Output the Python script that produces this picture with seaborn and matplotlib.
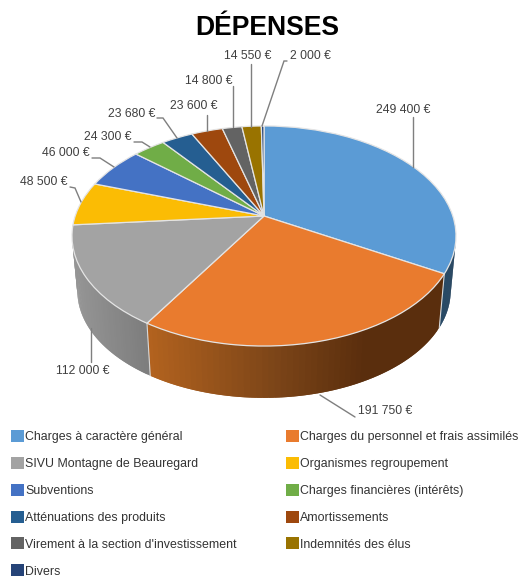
import numpy as np
import matplotlib
matplotlib.use("Agg")
import matplotlib.pyplot as plt
import seaborn as sns
from matplotlib.collections import PolyCollection
from matplotlib.colors import to_rgb
from matplotlib.patches import Patch
from matplotlib.path import Path
from matplotlib.transforms import Transform

categories = ["Charges à caractère général", "Charges du personnel et frais assimilés",
              "SIVU Montagne de Beauregard", "Organismes regroupement", "Subventions",
              "Charges financières (intérêts)", "Atténuations des produits", "Amortissements",
              "Virement à la section d'investissement", "Indemnités des élus", "Divers"]
values = [249400, 191750, 112000, 48500, 46000, 24300, 23680, 23600, 14800, 14550, 2000]
labels = ["249 400 €", "191 750 €", "112 000 €", "48 500 €", "46 000 €", "24 300 €",
          "23 680 €", "23 600 €", "14 800 €", "14 550 €", "2 000 €"]
colors = ["#5B9BD5", "#E97B2E", "#A3A3A3", "#FBBC04", "#4472C4", "#70AD47",
          "#255E91", "#9E480E", "#636363", "#997300", "#264478"]

sns.set_theme(style="white")
FONT = ["Liberation Sans", "DejaVu Sans"]
plt.rcParams["font.family"] = FONT
TXT = "#404040"

fig = plt.figure(figsize=(5.2, 5.78), dpi=100)
ax = fig.add_axes([0, 0, 1, 1])


class Perspective(Transform):
    input_dims = output_dims = 2
    is_separable = False
    has_inverse = False

    def __init__(self, cx, cy, a, b, k):
        super().__init__()
        self.p = (cx, cy, a, b, k)

    def transform_non_affine(self, xy):
        xy = np.asarray(xy, float)
        cx, cy, a, b, k = self.p
        w = 1 + k * xy[:, 1]
        return np.column_stack([cx + a * xy[:, 0] / w, cy - b * xy[:, 1] / w])

    def transform_path_non_affine(self, path):
        return Path(self.transform_non_affine(path.vertices), path.codes)


K = 0.1818
top = Perspective(264, 216, 188.8, 106.4, K)
bottom = Perspective(264, 271.5, 188.8 * 0.972, 106.4 * 0.972, K)


def rim(persp, deg):
    r = np.radians(deg)
    return persp.transform_non_affine(np.column_stack([np.cos(r), np.sin(r)]))


wedges, _ = ax.pie(values, colors=colors, startangle=90, counterclock=False,
                   wedgeprops=dict(edgecolor="#e4e4e4", linewidth=0.9, zorder=5))
ax.set_aspect("auto")
ax.set_xlim(0, 520)
ax.set_ylim(578, 0)
ax.axis("off")
for w in wedges:
    w.set_transform(top + ax.transData)

# extruded wall, shaded from left to right along each visible slice
side_shades = {0: ("#1A3F5E", "#1A3F5E", "#163754"), 1: ("#B5641F", "#7C4518", "#5A2E0D"),
               2: ("#969696", "#8C8C8C", "#7E7E7E")}
quads, qcol = [], []
for i, shades in side_shades.items():
    w = wedges[i]
    t1, t2 = w.theta1, w.theta2
    if i == 0:
        t2 = t1 + 16
    ang = np.linspace(t1, t2, 60)
    u = rim(top, ang)
    l = rim(bottom, ang)
    xs = 0.5 * (u[:, 0] + l[:, 0])
    f = (xs - xs.min()) / (xs.max() - xs.min())
    c0, c1, c2 = (np.array(to_rgb(c)) for c in shades)
    n = len(ang)
    # strips overlap their neighbour so that no seams show
    for j in range(n - 1):
        fm = 0.5 * (f[j] + f[j + 1])
        if i == 1:
            col = c0 + (c1 - c0) * min(fm / 0.45, 1) + (c2 - c1) * np.clip((fm - 0.45) / 0.3, 0, 1)
        else:
            col = c0 + (c2 - c0) * fm
        jp = max(j - 1, 0)
        quads.append([u[jp], u[j + 1], l[j + 1], l[jp]])
        qcol.append(col)
ax.add_collection(PolyCollection(quads, facecolors=qcol, edgecolors="none", linewidths=0, zorder=2))

# light seams on the wall
for t in (wedges[1].theta1, wedges[1].theta2):
    a = np.array([t])
    ax.plot([rim(top, a)[0, 0], rim(bottom, a)[0, 0]], [rim(top, a)[0, 1], rim(bottom, a)[0, 1]],
            color="#d8d8d8", lw=0.8, zorder=3)

# labels: text centre, then leader points
label_layout = [
    (403, 110, [(413, 117), (413, 167)]),
    (385, 411, [(355, 417), (320, 395)]),
    (83, 371, [(91, 362), (91, 328)]),
    (44, 182, [(70, 187), (75, 188), (81, 202)]),
    (66, 153, [(92, 158), (100, 158), (114, 167)]),
    (108, 137, [(134, 142), (142, 142), (150, 147)]),
    (132, 114, [(157, 118), (163, 118), (177, 138)]),
    (194, 106, [(207, 115), (207, 131)]),
    (209, 81, [(233, 86), (233, 127)]),
    (248, 56, [(251, 64), (251, 127)]),
    (310, 56, [(287, 61), (284, 61), (262, 126)]),
]
for lab, (x, y, pts) in zip(labels, label_layout):
    ax.text(x, y, lab, ha="center", va="center", fontsize=8.8, color=TXT, zorder=7)
    ax.plot(*zip(*pts), color="#7f7f7f", lw=1.0, zorder=6, solid_joinstyle="miter")

ax.text(267, 35, "DÉPENSES", ha="center", va="baseline", fontsize=19.1, fontweight="bold", color="black")

order = [0, 2, 4, 6, 8, 10, 1, 3, 5, 7, 9]
handles = [Patch(facecolor=colors[i], edgecolor="none", label=categories[i]) for i in order]
ax.legend(handles=handles, loc="upper left", bbox_to_anchor=(11, 430), bbox_transform=ax.transData,
          ncol=2, frameon=False, fontsize=8.95, labelcolor="#333333", borderpad=0, borderaxespad=0,
          handlelength=1.05, handleheight=1.1, handletextpad=0.1, labelspacing=1.1, columnspacing=3.95)

fig.savefig("out.png", dpi=100, facecolor="white")
